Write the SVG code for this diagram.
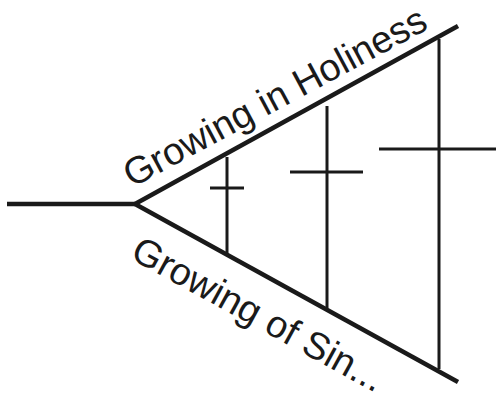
<svg xmlns="http://www.w3.org/2000/svg" width="496" height="396" viewBox="0 0 496 396">
<style>
.main{stroke:#1a1a1a;stroke-width:4.5;fill:none;stroke-linecap:butt;stroke-linejoin:miter}
.bar{stroke:#1a1a1a;stroke-width:3;fill:none}
.lbl{font-family:"Liberation Sans",Arial,sans-serif;font-size:38px;fill:#1a1a1a}
</style>
<rect width="496" height="396" fill="#ffffff"/>
<g id="connectors">
<polyline class="main" points="7,204 135,204"/>
<line class="main" x1="135" y1="204" x2="458" y2="26"/>
<line class="main" x1="135" y1="204" x2="458" y2="382"/>
</g>
<g id="cross1">
<line class="bar" x1="227" y1="157" x2="227" y2="253"/>
<line class="bar" x1="210" y1="188" x2="244" y2="188"/>
</g>
<g id="cross2">
<line class="bar" x1="327" y1="106" x2="327" y2="308"/>
<line class="bar" x1="290" y1="172" x2="363" y2="172"/>
</g>
<g id="cross3">
<line class="bar" x1="439" y1="39" x2="439" y2="369"/>
<line class="bar" x1="379" y1="149" x2="496" y2="149"/>
</g>
<g id="label-holiness">
<text class="lbl" transform="translate(132,188) rotate(-28.2)">Growing in Holiness</text>
</g>
<g id="label-sin">
<text class="lbl" transform="translate(129,258) rotate(28.7)">Growing of Sin...</text>
</g>
</svg>
